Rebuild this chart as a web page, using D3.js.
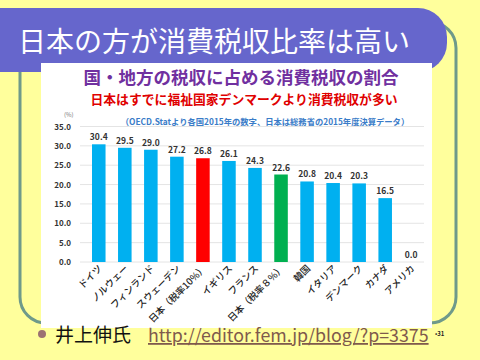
<!DOCTYPE html>
<html>
<head>
<meta charset="utf-8">
<script src="https://cdn.jsdelivr.net/npm/d3@7"></script>
<style>
  body { margin: 0; background: #FFFF9C; }
  text { font-family: "Noto Sans CJK JP", "Noto Sans", sans-serif; }
</style>
</head>
<body>
<svg id="chart" width="480" height="360"></svg>
<script>
// chart data
const countries = ["ドイツ", "ノルウェー", "フィンランド", "スウェーデン", "日本（税率10%）", "イギリス",
  "フランス", "日本（税率８%）", "韓国", "イタリア", "デンマーク", "カナダ", "アメリカ"];
const ratios = [30.4, 29.5, 29.0, 27.2, 26.8, 26.1, 24.3, 22.6, 20.8, 20.4, 20.3, 16.5, 0.0];
const yTicks = [0, 5, 10, 15, 20, 25, 30, 35];
const barColors = ["#00B0F0", "#00B0F0", "#00B0F0", "#00B0F0", "#FF0000", "#00B0F0",
  "#00B0F0", "#00B050", "#00B0F0", "#00B0F0", "#00B0F0", "#00B0F0", "#00B0F0"];

const svg = d3.select("#chart");

// slide frame
svg.append("rect")
  .attr("x", 20).attr("y", 22)
  .attr("width", 436).attr("height", 301)
  .attr("rx", 26)
  .attr("fill", "none")
  .attr("stroke", "#6F9A8A")
  .attr("stroke-width", 3);

// title banner
svg.append("path")
  .attr("d", "M-10,8 H418 A29,29 0 0 1 447,37 V43 A29,29 0 0 1 418,72 H-10 Z")
  .attr("fill", "#6666CC");

svg.append("text")
  .attr("x", 18).attr("y", 52)
  .attr("fill", "white")
  .attr("font-size", 28)
  .text("日本の方が消費税収比率は高い");

// the chart picture
const pic = svg.append("g");
pic.append("clipPath").attr("id", "picclip")
  .append("rect")
  .attr("x", 41).attr("y", 63)
  .attr("width", 391).attr("height", 265);

pic.append("rect")
  .attr("x", 41).attr("y", 63)
  .attr("width", 391).attr("height", 265)
  .attr("fill", "white");

pic.append("text")
  .attr("x", 241).attr("y", 84)
  .attr("text-anchor", "middle")
  .attr("fill", "#7030A0")
  .attr("font-weight", "bold")
  .attr("font-size", 17.5)
  .text("国・地方の税収に占める消費税収の割合");

pic.append("text")
  .attr("x", 244).attr("y", 104)
  .attr("text-anchor", "middle")
  .attr("fill", "#E00000")
  .attr("font-weight", "bold")
  .attr("font-size", 12.8)
  .text("日本はすでに福祉国家デンマークより消費税収が多い");

pic.append("text")
  .attr("x", 265).attr("y", 125)
  .attr("text-anchor", "middle")
  .attr("fill", "#3A7CC8")
  .attr("font-weight", "bold")
  .attr("font-size", 8.3)
  .text("（OECD.Statより各国2015年の数字、日本は総務省の2015年度決算データ）");

pic.append("text")
  .attr("x", 64).attr("y", 117)
  .attr("fill", "#777")
  .attr("font-size", 6)
  .text("(%)");

const x = d3.scaleBand()
  .domain(countries)
  .range([79.5, 430.5])
  .padding(0.48);

const y = d3.scaleLinear()
  .domain([0, 35])
  .range([262, 126.5]);

// grid lines
pic.append("g")
  .selectAll("line")
  .data(yTicks)
  .join("line")
  .attr("x1", 80).attr("x2", 424)
  .attr("y1", d => y(d)).attr("y2", d => y(d))
  .attr("stroke", "#E4E4E4")
  .attr("stroke-width", 1);

// y axis labels
const yAxis = d3.axisLeft(y)
  .tickValues(yTicks)
  .tickFormat(d3.format(".1f"))
  .tickSize(0)
  .tickPadding(0);

pic.append("g")
  .attr("transform", "translate(71,0)")
  .call(yAxis)
  .call(g => g.select(".domain").remove())
  .call(g => g.selectAll("text")
    .attr("font-family", "'Noto Sans', sans-serif")
    .attr("font-weight", "bold")
    .attr("font-size", 8)
    .attr("fill", "#333"));

// bars
pic.append("g")
  .selectAll("rect")
  .data(ratios)
  .join("rect")
  .attr("x", (d, i) => x(countries[i]))
  .attr("y", d => y(d))
  .attr("width", x.bandwidth())
  .attr("height", d => y(0) - y(d))
  .attr("fill", (d, i) => barColors[i]);

// value labels
pic.append("g")
  .selectAll("text")
  .data(ratios)
  .join("text")
  .attr("x", (d, i) => x(countries[i]) + x.bandwidth() / 2)
  .attr("y", d => y(d) - 4)
  .attr("text-anchor", "middle")
  .attr("font-family", "'Noto Sans', sans-serif")
  .attr("font-weight", "bold")
  .attr("font-size", 8.5)
  .attr("fill", "#333")
  .text(d => d.toFixed(1));

// category labels, rotated
pic.append("g")
  .attr("clip-path", "url(#picclip)")
  .selectAll("text")
  .data(countries)
  .join("text")
  .attr("transform", d => `translate(${x(d) + x.bandwidth() / 2 + 4},269) rotate(-45)`)
  .attr("text-anchor", "end")
  .attr("font-size", 9.5)
  .attr("font-weight", 500)
  .attr("fill", "#222")
  .text(d => d);

// footer
svg.append("circle")
  .attr("cx", 42).attr("cy", 334)
  .attr("r", 4)
  .attr("fill", "#9C7272");

svg.append("text")
  .attr("x", 55).attr("y", 342)
  .attr("font-size", 19)
  .attr("fill", "#111")
  .text("井上伸氏");

svg.append("text")
  .attr("x", 148).attr("y", 342)
  .attr("font-family", "'Liberation Sans', Arial, sans-serif")
  .attr("font-size", 17.8)
  .attr("fill", "#7F5A4C")
  .attr("text-decoration", "underline")
  .text("http://editor.fem.jp/blog/?p=3375");

svg.append("text")
  .attr("x", 435).attr("y", 336)
  .attr("font-family", "'Liberation Sans', Arial, sans-serif")
  .attr("font-size", 6)
  .attr("font-weight", "bold")
  .attr("fill", "#222")
  .text("•31");
</script>
</body>
</html>
